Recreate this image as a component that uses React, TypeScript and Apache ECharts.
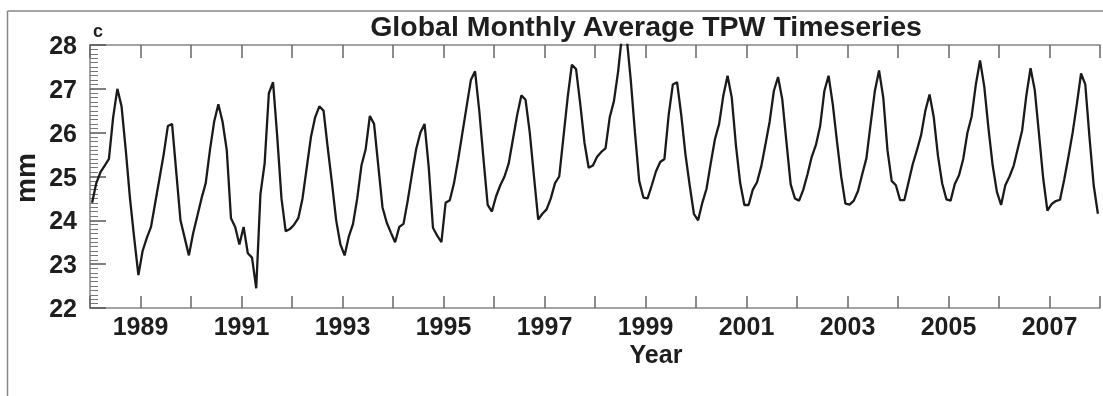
import React, { useEffect, useRef } from "react";
import * as echarts from "echarts";

// Years of the monthly record (12 values each, Jan..Dec)
const years = [
  1988, 1989, 1990, 1991, 1992, 1993, 1994, 1995, 1996, 1997,
  1998, 1999, 2000, 2001, 2002, 2003, 2004, 2005, 2006, 2007,
];

// Global monthly average total precipitable water (mm)
const monthlyTpw: number[][] = [
  [24.4, 24.85, 25.1, 25.25, 25.4, 26.35, 27.0, 26.6, 25.6, 24.5, 23.6, 22.75], // 1988
  [23.3, 23.6, 23.85, 24.4, 24.95, 25.5, 26.15, 26.2, 25.1, 24.0, 23.6, 23.2], // 1989
  [23.7, 24.1, 24.5, 24.85, 25.6, 26.25, 26.65, 26.25, 25.6, 24.05, 23.85, 23.45], // 1990
  [23.85, 23.25, 23.15, 22.45, 24.6, 25.3, 26.9, 27.15, 25.9, 24.5, 23.75, 23.8], // 1991
  [23.9, 24.05, 24.5, 25.2, 25.9, 26.35, 26.6, 26.5, 25.65, 24.85, 24.0, 23.45], // 1992
  [23.2, 23.63, 23.92, 24.5, 25.25, 25.62, 26.38, 26.2, 25.25, 24.3, 23.95, 23.72], // 1993
  [23.5, 23.85, 23.92, 24.45, 25.05, 25.62, 26.0, 26.2, 25.2, 23.83, 23.65, 23.5], // 1994
  [24.4, 24.46, 24.85, 25.4, 26.0, 26.6, 27.2, 27.4, 26.5, 25.4, 24.35, 24.2], // 1995
  [24.55, 24.8, 25.0, 25.3, 25.85, 26.4, 26.85, 26.75, 26.0, 25.0, 24.02, 24.15], // 1996
  [24.25, 24.5, 24.85, 25.0, 25.9, 26.8, 27.55, 27.45, 26.65, 25.77, 25.2, 25.25], // 1997
  [25.45, 25.56, 25.64, 26.35, 26.72, 27.4, 28.3, 28.2, 27.2, 26.0, 24.9, 24.52], // 1998
  [24.5, 24.8, 25.12, 25.33, 25.4, 26.4, 27.1, 27.15, 26.4, 25.5, 24.8, 24.15], // 1999
  [24.0, 24.4, 24.72, 25.3, 25.85, 26.2, 26.85, 27.3, 26.8, 25.7, 24.85, 24.35], // 2000
  [24.35, 24.7, 24.87, 25.23, 25.73, 26.25, 26.95, 27.27, 26.76, 25.78, 24.82, 24.5], // 2001
  [24.45, 24.7, 25.05, 25.45, 25.72, 26.15, 26.95, 27.3, 26.65, 25.8, 25.0, 24.38], // 2002
  [24.36, 24.45, 24.67, 25.05, 25.42, 26.2, 26.95, 27.42, 26.8, 25.6, 24.9, 24.8], // 2003
  [24.46, 24.46, 24.87, 25.28, 25.6, 25.95, 26.5, 26.87, 26.35, 25.47, 24.84, 24.48], // 2004
  [24.45, 24.83, 25.03, 25.4, 26.0, 26.37, 27.1, 27.65, 27.05, 26.1, 25.25, 24.65], // 2005
  [24.35, 24.8, 25.0, 25.25, 25.65, 26.05, 26.85, 27.47, 26.97, 25.97, 24.96, 24.22], // 2006
  [24.37, 24.44, 24.47, 24.93, 25.45, 26.0, 26.65, 27.35, 27.1, 25.9, 24.8, 24.15], // 2007
];

const labeledYears = [1989, 1991, 1993, 1995, 1997, 1999, 2001, 2003, 2005, 2007];

const titleText = "Global Monthly Average TPW Timeseries";
const panelLetter = "c";
const yAxisTitle = "mm";
const xAxisTitle = "Year";

const FONT = "'Liberation Sans', Arial, Helvetica, sans-serif";
const TEXT = "#1e1e1e";

export default function App() {
  const ref = useRef<HTMLDivElement>(null);

  useEffect(() => {
    if (!ref.current) return;
    const chart = echarts.init(ref.current, null, { renderer: "svg" });

    const data: number[][] = [];
    years.forEach((yr, yi) => {
      monthlyTpw[yi].forEach((v, m) => {
        data.push([yr + (m + 0.5) / 12, v]);
      });
    });

    const yearLabel = (v: number) => (labeledYears.indexOf(v) >= 0 ? String(v) : "");

    chart.setOption({
      animation: false,
      grid: { left: 90, right: 1, top: 45, bottom: 88 },
      xAxis: [
        {
          type: "value",
          min: 1988,
          max: 2008,
          interval: 1,
          position: "bottom",
          splitLine: { show: false },
          axisLine: { show: true, lineStyle: { color: "#858585", width: 1.5 } },
          axisTick: { show: true, inside: true, length: 12, lineStyle: { color: "#666666", width: 1.5 } },
          axisLabel: {
            show: true,
            margin: 5,
            color: TEXT,
            fontSize: 25,
            fontWeight: "bold",
            fontFamily: FONT,
            formatter: yearLabel,
          },
        },
        {
          type: "value",
          min: 1988,
          max: 2008,
          interval: 1,
          position: "top",
          splitLine: { show: false },
          axisLine: { show: true, lineStyle: { color: "#858585", width: 1.5 } },
          axisTick: { show: true, inside: true, length: 13, lineStyle: { color: "#666666", width: 1.5 } },
          axisLabel: { show: true, formatter: () => "" },
        },
      ],
      yAxis: {
        type: "value",
        min: 22,
        max: 28,
        interval: 1,
        splitLine: { show: false },
        axisLine: { show: true, lineStyle: { color: "#858585", width: 1.5 } },
        axisTick: { show: true, inside: true, length: 16, lineStyle: { color: "#555555", width: 1.5 } },
        minorTick: { show: true, splitNumber: 10, length: 8, lineStyle: { color: "#777777", width: 1 } },
        axisLabel: {
          margin: 13,
          color: TEXT,
          fontSize: 25,
          fontWeight: "bold",
          fontFamily: FONT,
        },
      },
      series: [
        {
          type: "line",
          xAxisIndex: 0,
          data,
          showSymbol: false,
          clip: true,
          lineStyle: { color: "#1a1a1a", width: 2.3 },
        },
        {
          // empty series so the top (mirror) axis is rendered
          type: "line",
          xAxisIndex: 1,
          data: [],
          showSymbol: false,
        },
      ],
      graphic: [
        {
          type: "line",
          shape: { x1: 7.5, y1: 11, x2: 7.5, y2: 396 },
          style: { stroke: "#888", lineWidth: 1.5 },
        },
        {
          type: "line",
          shape: { x1: 7.5, y1: 11, x2: 1103, y2: 11 },
          style: { stroke: "#888", lineWidth: 1.5 },
        },
        {
          type: "text",
          x: 646,
          y: 26,
          style: {
            text: titleText,
            fontSize: 28.5,
            fontWeight: "bold",
            fontFamily: FONT,
            fill: TEXT,
            align: "center",
            verticalAlign: "middle",
          },
        },
        {
          type: "text",
          x: 93,
          y: 31,
          style: {
            text: panelLetter,
            fontSize: 18,
            fontWeight: "bold",
            fontFamily: FONT,
            fill: TEXT,
            align: "left",
            verticalAlign: "middle",
          },
        },
        {
          type: "text",
          x: 25,
          y: 178,
          rotation: Math.PI / 2,
          style: {
            text: yAxisTitle,
            fontSize: 28,
            fontWeight: "bold",
            fontFamily: FONT,
            fill: TEXT,
            align: "center",
            verticalAlign: "middle",
          },
        },
        {
          type: "text",
          x: 656,
          y: 354,
          style: {
            text: xAxisTitle,
            fontSize: 25,
            fontWeight: "bold",
            fontFamily: FONT,
            fill: TEXT,
            align: "center",
            verticalAlign: "middle",
          },
        },
      ],
    });

    return () => chart.dispose();
  }, []);

  return (
    <div
      ref={ref}
      style={{ position: "fixed", left: 0, top: 0, width: 1103, height: 396 }}
    />
  );
}
